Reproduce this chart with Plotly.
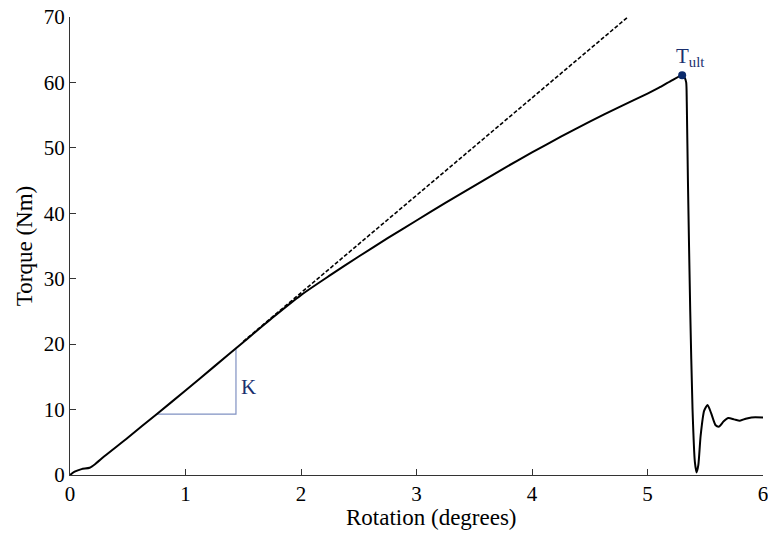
import plotly.graph_objects as go

# Measured torque-rotation curve
rotation = [0.0, 0.04, 0.1, 0.17, 0.22, 0.3, 0.5, 0.75, 1.0, 1.25, 1.5, 1.75,
            2.0, 2.25, 2.5, 2.75, 3.0, 3.25, 3.5, 3.75, 4.0, 4.25, 4.5, 4.75,
            5.0, 5.1, 5.2, 5.3, 5.32, 5.335, 5.34, 5.35, 5.37, 5.39, 5.41,
            5.425, 5.44, 5.46, 5.49, 5.52, 5.55, 5.59, 5.62, 5.66, 5.70, 5.75,
            5.80, 5.85, 5.9, 6.0]
torque = [0.0, 0.5, 0.9, 1.1, 1.7, 2.9, 5.7, 9.3, 12.9, 16.6, 20.3, 24.0,
          27.5, 30.5, 33.4, 36.2, 38.9, 41.6, 44.2, 46.8, 49.3, 51.7, 54.0, 56.2,
          58.3, 59.2, 60.2, 61.1, 60.8, 60.0, 57.0, 45.0, 25.0, 10.0, 2.0,
          0.4, 1.5, 6.0, 9.8, 10.7, 9.5, 7.6, 7.4, 8.2, 8.7, 8.5,
          8.3, 8.6, 8.8, 8.8]

# Linear stiffness extension (dashed)
lin_x = [1.5, 4.83]
lin_y = [20.4, 70.0]

# Stiffness triangle K
k_x = [0.75, 1.437, 1.437]
k_y = [9.3, 9.3, 19.3]

# Ultimate torque point
tult_x = [5.30]
tult_y = [61.1]

x_ticks = [0, 1, 2, 3, 4, 5, 6]
y_ticks = [0, 10, 20, 30, 40, 50, 60, 70]

navy = "#1a2f6e"
serif = "Liberation Serif, Times New Roman, serif"

fig = go.Figure()
fig.add_trace(go.Scatter(x=lin_x, y=lin_y, mode="lines",
                         line=dict(color="black", width=1.6, dash="4px,2px"),
                         showlegend=False, hoverinfo="skip"))
fig.add_trace(go.Scatter(x=k_x, y=k_y, mode="lines",
                         line=dict(color="#8091c2", width=1.2),
                         showlegend=False, hoverinfo="skip"))
fig.add_trace(go.Scatter(x=rotation, y=torque, mode="lines",
                         line=dict(color="black", width=2, shape="spline", smoothing=0.6),
                         showlegend=False))
fig.add_trace(go.Scatter(x=tult_x, y=tult_y, mode="markers",
                         marker=dict(color="#0b2a6b", size=8),
                         showlegend=False))

fig.add_annotation(x=tult_x[0], y=tult_y[0], text="T<sub>ult</sub>", showarrow=False,
                   xanchor="left", yanchor="bottom", xshift=-8, yshift=3,
                   font=dict(family=serif, size=21, color=navy))
fig.add_annotation(x=k_x[1], y=(k_y[0] + k_y[2]) / 2 - 0.8, text="K", showarrow=False,
                   xanchor="left", yanchor="middle", xshift=3,
                   font=dict(family=serif, size=21, color=navy))
fig.add_annotation(xref="paper", yref="paper", x=0.522, y=-0.092,
                   text="Rotation (degrees)", showarrow=False,
                   xanchor="center", yanchor="middle",
                   font=dict(family=serif, size=23, color="black"))

axis_common = dict(showline=True, linecolor="#333333", linewidth=1.2,
                   ticks="inside", ticklen=6, tickcolor="#333333", tickwidth=1,
                   showgrid=False, zeroline=False, automargin=False,
                   ticklabeloverflow="allow",
                   tickfont=dict(family=serif, size=21, color="black"))

fig.update_layout(
    width=768, height=533,
    margin=dict(l=70, r=5, t=17, b=58),
    plot_bgcolor="white", paper_bgcolor="white",
    xaxis=dict(range=[0, 6], tickvals=x_ticks, **axis_common),
    yaxis=dict(range=[0, 70], tickvals=y_ticks,
               title=dict(text="Torque (Nm)", standoff=4,
                          font=dict(family=serif, size=23, color="black")),
               **axis_common),
)

fig.write_html("out.html")
